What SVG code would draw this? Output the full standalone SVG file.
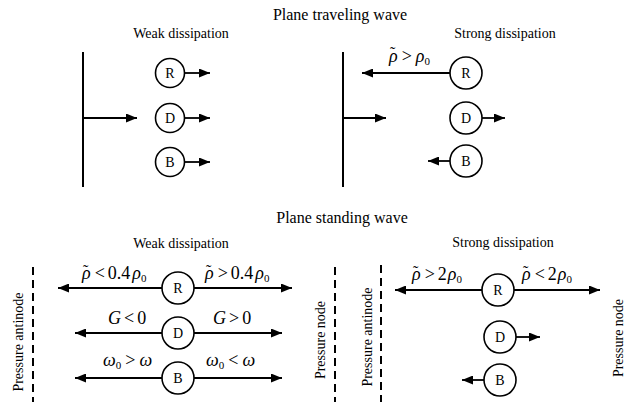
<svg xmlns="http://www.w3.org/2000/svg" width="631" height="402" viewBox="0 0 631 402">
<defs>
<marker id="ah" viewBox="0 0 11 9" refX="11" refY="4.5" markerWidth="11" markerHeight="9" markerUnits="userSpaceOnUse" orient="auto">
<path d="M0,0 L11,4.5 L0,9 Z" fill="#000"/>
</marker>
<style>
text{font-family:"Liberation Serif","Times New Roman",serif;fill:#000}
.title{font-size:16px;text-anchor:middle}
.sub{font-size:14px;text-anchor:middle}
.lbl{font-size:14px;text-anchor:middle}
.node circle{fill:#fff;stroke:#000;stroke-width:1.6}
.node text{font-size:14px;text-anchor:middle}
.math{font-size:18px}
.it{font-style:italic}
.sb{font-size:11px}
.tl{font-size:16px}
.arr{stroke:#000;stroke-width:1.8;fill:none;marker-end:url(#ah)}
.wall{stroke:#000;stroke-width:2}
.dash{stroke:#000;stroke-width:2;stroke-dasharray:8,5}
</style>
</defs>
<rect width="631" height="402" fill="#fff"/>

<!-- Titles -->
<text class="title" x="340" y="20">Plane traveling wave</text>
<text class="sub" x="181" y="38">Weak dissipation</text>
<text class="sub" x="505" y="38">Strong dissipation</text>
<text class="title" x="342" y="223">Plane standing wave</text>
<text class="sub" x="181" y="248">Weak dissipation</text>
<text class="sub" x="503" y="247">Strong dissipation</text>

<!-- walls and side labels -->
<line class="wall" x1="83" y1="52" x2="83" y2="187"/>
<line class="wall" x1="343" y1="52" x2="343" y2="187"/>
<line class="dash" x1="33" y1="267" x2="33" y2="402"/>
<line class="dash" x1="335" y1="267" x2="335" y2="402"/>
<line class="dash" x1="381" y1="265" x2="381" y2="402"/>
<text class="lbl" transform="translate(23,342) rotate(-90)">Pressure antinode</text>
<text class="lbl" transform="translate(325,340) rotate(-90)">Pressure node</text>
<text class="lbl" transform="translate(372,337) rotate(-90)">Pressure antinode</text>
<text class="lbl" transform="translate(623,338) rotate(-90)">Pressure node</text>

<!-- connectors -->
<g id="connectors">
<line class="arr" x1="84" y1="118" x2="137" y2="118"/>
<line class="arr" x1="185" y1="73" x2="210" y2="73"/>
<line class="arr" x1="185" y1="118" x2="210" y2="118"/>
<line class="arr" x1="185" y1="162" x2="210" y2="162"/>
<line class="arr" x1="344" y1="118" x2="386" y2="118"/>
<line class="arr" x1="450" y1="73" x2="362" y2="73"/>
<line class="arr" x1="482" y1="118" x2="505" y2="118"/>
<line class="arr" x1="450" y1="161" x2="428" y2="161"/>

<line class="arr" x1="162" y1="288" x2="58" y2="288"/>
<line class="arr" x1="194" y1="288" x2="292" y2="288"/>
<line class="arr" x1="162" y1="333" x2="75" y2="333"/>
<line class="arr" x1="194" y1="333" x2="282" y2="333"/>
<line class="arr" x1="162" y1="378" x2="75" y2="378"/>
<line class="arr" x1="194" y1="378" x2="282" y2="378"/>

<line class="arr" x1="482" y1="290" x2="395" y2="290"/>
<line class="arr" x1="514" y1="290" x2="600" y2="290"/>
<line class="arr" x1="516" y1="337" x2="540" y2="337"/>
<line class="arr" x1="484" y1="380" x2="462" y2="380"/>
</g>

<!-- math labels -->
<text class="math" font-size="17"><tspan class="tl" x="390" y="58">˜</tspan><tspan class="it" x="389" y="62">ρ</tspan><tspan dx="4">&gt;</tspan><tspan class="it" dx="4">ρ</tspan><tspan class="sb" dy="3">0</tspan></text>

<text class="math"><tspan class="tl" x="83" y="276">˜</tspan><tspan class="it" x="82" y="279">ρ</tspan><tspan dx="4">&lt;</tspan><tspan dx="3">0.4</tspan><tspan class="it" dx="2">ρ</tspan><tspan class="sb" dy="3">0</tspan></text>
<text class="math"><tspan class="tl" x="206" y="276">˜</tspan><tspan class="it" x="205" y="279">ρ</tspan><tspan dx="4">&gt;</tspan><tspan dx="3">0.4</tspan><tspan class="it" dx="2">ρ</tspan><tspan class="sb" dy="3">0</tspan></text>

<text class="math" x="108" y="324" font-size="19"><tspan class="it">G</tspan><tspan dx="3">&lt;</tspan><tspan dx="3">0</tspan></text>
<text class="math" x="213" y="324" font-size="19"><tspan class="it">G</tspan><tspan dx="3">&gt;</tspan><tspan dx="3">0</tspan></text>

<text class="math" x="103" y="366"><tspan class="it">ω</tspan><tspan class="sb" dy="3">0</tspan><tspan dy="-3" dx="4">&gt;</tspan><tspan class="it" dx="4">ω</tspan></text>
<text class="math" x="206" y="366"><tspan class="it">ω</tspan><tspan class="sb" dy="3">0</tspan><tspan dy="-3" dx="4">&lt;</tspan><tspan class="it" dx="4">ω</tspan></text>

<text class="math"><tspan class="tl" x="413" y="277">˜</tspan><tspan class="it" x="412" y="280">ρ</tspan><tspan dx="4">&gt;</tspan><tspan dx="3">2</tspan><tspan class="it" dx="1">ρ</tspan><tspan class="sb" dy="3">0</tspan></text>
<text class="math"><tspan class="tl" x="523" y="277">˜</tspan><tspan class="it" x="522" y="280">ρ</tspan><tspan dx="4">&lt;</tspan><tspan dx="3">2</tspan><tspan class="it" dx="1">ρ</tspan><tspan class="sb" dy="3">0</tspan></text>

<!-- nodes -->
<g id="tw-weak-R" class="node"><circle cx="170" cy="73" r="14.5"/><text x="170" y="78">R</text></g>
<g id="tw-weak-D" class="node"><circle cx="170" cy="118" r="14.5"/><text x="170" y="123">D</text></g>
<g id="tw-weak-B" class="node"><circle cx="170" cy="162" r="14.5"/><text x="170" y="167">B</text></g>
<g id="tw-strong-R" class="node"><circle cx="466" cy="73" r="16"/><text x="466" y="78">R</text></g>
<g id="tw-strong-D" class="node"><circle cx="466" cy="118" r="16"/><text x="466" y="123">D</text></g>
<g id="tw-strong-B" class="node"><circle cx="466" cy="161" r="16"/><text x="466" y="166">B</text></g>

<g id="sw-weak-R" class="node"><circle cx="178" cy="288" r="16"/><text x="178" y="293">R</text></g>
<g id="sw-weak-D" class="node"><circle cx="178" cy="333" r="16"/><text x="178" y="338">D</text></g>
<g id="sw-weak-B" class="node"><circle cx="178" cy="378" r="16"/><text x="178" y="383">B</text></g>
<g id="sw-strong-R" class="node"><circle cx="498" cy="290" r="16"/><text x="498" y="295">R</text></g>
<g id="sw-strong-D" class="node"><circle cx="500" cy="337" r="16"/><text x="500" y="342">D</text></g>
<g id="sw-strong-B" class="node"><circle cx="500" cy="380" r="16"/><text x="500" y="385">B</text></g>
</svg>
